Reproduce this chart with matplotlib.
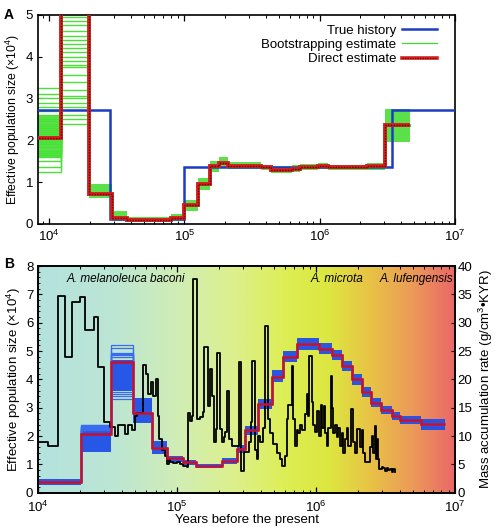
import matplotlib
matplotlib.use("Agg")
import matplotlib.pyplot as plt
import numpy as np
from matplotlib.colors import LinearSegmentedColormap
from matplotlib.lines import Line2D
from matplotlib.ticker import MultipleLocator, LogLocator, NullFormatter

plt.rcParams["font.family"] = ["Liberation Sans", "DejaVu Sans"]
plt.rcParams["mathtext.fontset"] = "custom"
plt.rcParams["mathtext.rm"] = "Liberation Sans"
plt.rcParams["mathtext.it"] = "Liberation Sans:italic"
plt.rcParams["mathtext.bf"] = "Liberation Sans:bold"
plt.rcParams["font.size"] = 9

# ---------------- Panel A: simulated history ----------------
a_true_edges = [8.0e3, 2.8e4, 1.0e5, 3.4e6, 1.0e7]
a_true_vals = [2.72, 0.12, 1.35, 2.72]

a_direct_edges = [8.0e3, 1.23e4, 1.96e4, 2.9e4, 3.8e4, 8.0e4, 1.0e5, 1.26e5,
                  1.55e5, 1.8e5, 2.1e5, 3.7e5, 4.4e5, 6.2e5, 7.2e5, 9.8e5,
                  1.15e6, 2.25e6, 3.04e6, 4.65e6]
a_direct_vals = [2.05, 8.0, 0.72, 0.15, 0.10, 0.15, 0.45, 0.95, 1.38, 1.45,
                 1.39, 1.35, 1.30, 1.32, 1.36, 1.38, 1.35, 1.38, 2.37]
# bootstrap spread (dense core), per step
a_boot_lo = [1.60, 8.0, 0.62, 0.08, 0.06, 0.08, 0.32, 0.80, 1.25, 1.35,
             1.32, 1.28, 1.22, 1.25, 1.29, 1.31, 1.28, 1.30, 1.95]
a_boot_hi = [2.60, 8.0, 0.95, 0.30, 0.16, 0.25, 0.58, 1.10, 1.50, 1.60,
             1.47, 1.42, 1.38, 1.40, 1.43, 1.45, 1.42, 1.46, 2.75]
# individual bootstrap replicates visible in the first two epochs
a_rep_first = [1.25, 1.35, 1.50, 1.60, 1.70, 1.75, 1.85, 1.90, 2.00, 2.05,
               2.10, 2.20, 2.25, 2.30, 2.40, 2.45, 2.50, 2.60, 2.70, 2.80,
               2.90, 3.00, 3.10, 3.25, 1.65, 1.95, 2.15, 2.35]
a_rep_second = [4.95, 4.85, 4.75, 4.60, 4.50, 4.40, 4.30, 4.20, 4.10, 4.00,
                3.90, 3.80, 3.75, 3.55, 3.40, 3.20, 3.05, 3.00, 2.90, 2.80,
                2.60, 2.50, 2.40, 6.00, 5.50, 6.50, 7.00, 7.50]

# ---------------- Panel B: giant panda ----------------
b_direct_edges = [1.0e4, 2.04e4, 3.35e4, 4.85e4, 6.6e4, 8.5e4, 1.1e5, 1.38e5,
                  2.1e5, 2.7e5, 3.1e5, 3.85e5, 4.8e5, 5.8e5, 7.3e5, 1.05e6,
                  1.3e6, 1.55e6, 1.83e6, 2.13e6, 2.5e6, 2.96e6, 3.5e6, 4.0e6,
                  5.7e6, 8.5e6]
b_direct_vals = [0.38, 2.08, 4.62, 2.80, 1.58, 1.22, 1.07, 0.96, 1.13, 1.55,
                 2.20, 3.12, 4.10, 4.80, 5.25, 5.08, 4.85, 4.47, 4.00, 3.54,
                 3.18, 2.92, 2.71, 2.56, 2.42]
b_boot_lo = [0.28, 1.45, 3.60, 2.45, 1.38, 1.10, 0.98, 0.88, 1.03, 1.42,
             2.05, 2.95, 3.90, 4.60, 5.05, 4.90, 4.68, 4.30, 3.82, 3.38,
             3.02, 2.78, 2.58, 2.42, 2.22]
b_boot_hi = [0.48, 2.25, 4.70, 3.35, 1.82, 1.30, 1.15, 1.03, 1.22, 1.68,
             2.35, 3.32, 4.32, 5.00, 5.48, 5.28, 5.05, 4.65, 4.18, 3.72,
             3.36, 3.08, 2.86, 2.72, 2.62]
b_rep_second = [2.25, 2.30, 2.35, 2.40, 2.28, 2.22, 2.32, 2.38, 2.20, 2.26]
b_rep_third = [5.20, 5.10, 4.95, 4.85, 4.78, 3.30, 3.40, 3.50, 3.55, 4.90]

# mass accumulation rate (g/cm^3*KYR), log10 years / rate
mar_logyr = [4.000, 4.070, 4.142, 4.196, 4.245, 4.302, 4.340, 4.405, 4.434, 4.477,
             4.518, 4.554, 4.576, 4.626, 4.647, 4.676, 4.700, 4.712, 4.755, 4.777,
             4.791, 4.813, 4.827, 4.849, 4.863, 4.871, 4.892, 4.910, 4.928, 4.940,
             4.950, 4.973, 4.998, 5.022, 5.045, 5.070, 5.081, 5.094, 5.106, 5.117,
             5.142, 5.165, 5.189, 5.196, 5.221, 5.237, 5.250, 5.266, 5.281, 5.290,
             5.309, 5.321, 5.338, 5.347, 5.358, 5.376, 5.394, 5.446, 5.460, 5.482,
             5.515, 5.535, 5.542, 5.561, 5.573, 5.585, 5.597, 5.621, 5.633, 5.653,
             5.669, 5.693, 5.717, 5.741, 5.758, 5.777, 5.789, 5.801, 5.825, 5.838,
             5.849, 5.861, 5.873, 5.885, 5.901, 5.921, 5.933, 5.945, 5.952, 5.969,
             5.978, 5.993, 6.005, 6.022, 6.036, 6.045, 6.060, 6.065, 6.077, 6.088,
             6.108, 6.117, 6.124, 6.137, 6.149, 6.160, 6.173, 6.185, 6.196, 6.209,
             6.221, 6.232, 6.252, 6.269, 6.281, 6.293, 6.317, 6.329, 6.340, 6.353,
             6.388, 6.401, 6.412, 6.424, 6.432, 6.441, 6.448, 6.455, 6.473, 6.484,
             6.496, 6.509, 6.520, 6.532, 6.545, 6.556, 6.568]
mar_rate = [9.0, 8.3, 34.7, 23.9, 33.6, 34.6, 28.7, 31.1, 22.2, 12.4,
            11.6, 10.0, 12.0, 10.3, 12.0, 11.0, 13.5, 14.0, 22.5, 21.0,
            17.5, 19.5, 17.0, 20.0, 13.5, 9.5, 7.5, 6.5, 5.0, 6.0,
            5.5, 5.2, 5.5, 5.0, 4.8, 4.5, 14.0, 12.7, 13.5, 37.8,
            13.0, 13.3, 14.2, 25.8, 15.3, 21.8, 17.0, 9.0, 11.2, 24.7,
            11.2, 9.0, 9.8, 10.8, 17.9, 9.5, 8.2, 23.0, 3.9, 7.2,
            9.0, 12.5, 23.2, 7.5, 6.0, 10.0, 9.0, 11.5, 29.4, 13.0,
            10.5, 8.6, 7.0, 6.0, 4.8, 6.5, 13.0, 15.5, 22.3, 13.0,
            8.2, 11.0, 10.5, 12.0, 11.0, 13.9, 17.5, 13.5, 24.1, 16.0,
            12.0, 10.7, 14.5, 10.0, 15.5, 11.5, 15.3, 10.5, 8.2, 11.5,
            20.6, 15.0, 10.5, 12.0, 9.8, 11.5, 8.2, 10.5, 7.0, 9.5,
            11.5, 8.2, 14.7, 8.9, 7.1, 11.2, 8.0, 11.0, 7.0, 5.4,
            8.0, 10.0, 7.0, 11.8, 6.0, 9.5, 6.0, 4.2, 4.6, 4.4,
            3.9, 4.4, 4.0, 4.2, 3.6, 4.2, 3.6]

species = ["A. melanoleuca baconi", "A. microta", "A. lufengensis"]
species_x = [4.3e4, 1.42e6, 5.3e6]

GREEN = "#3ddc2a"
RED = "#d41f1f"
TRUE_BLUE = "#1c3cc4"
BOOT_BLUE = "#1f4fe8"

fig = plt.figure(figsize=(4.95, 5.27), dpi=100)
fig.patch.set_facecolor("white")
axa = fig.add_axes([0.077, 0.575, 0.842, 0.397])
axb = fig.add_axes([0.077, 0.065, 0.842, 0.430])


def style_log_x(ax, pad):
    ax.set_xscale("log")
    ax.xaxis.set_major_locator(LogLocator(base=10, numticks=10))
    ax.xaxis.set_minor_locator(LogLocator(base=10, subs=np.arange(2, 10), numticks=20))
    ax.xaxis.set_minor_formatter(NullFormatter())
    ax.tick_params(axis="x", which="both", direction="in", top=True, labelsize=9.5)
    ax.tick_params(axis="x", which="major", length=4, width=0.9, pad=pad)
    ax.tick_params(axis="x", which="minor", length=2.2, width=0.7)
    for s in ax.spines.values():
        s.set_linewidth(1.2)


# ---- panel A ----
axa.stairs(a_boot_hi, a_direct_edges, baseline=a_boot_lo, fill=True,
           color=GREEN, alpha=0.85, lw=0, zorder=2)
for v1, v2 in zip(a_rep_first, a_rep_second):
    rep = list(a_direct_vals)
    rep[0] = v1
    rep[1] = v2
    axa.stairs(rep, a_direct_edges, color="#48e236", lw=1.0, zorder=2,
               baseline=None)
axa.stairs(a_true_vals, a_true_edges, color=TRUE_BLUE, lw=1.8, zorder=3,
           baseline=None)
axa.stairs(a_direct_vals, a_direct_edges, color=RED, lw=2.8, zorder=4,
           baseline=None)
axa.stairs(a_direct_vals, a_direct_edges, color="#5a0a0a", lw=1.0,
           linestyle=(0, (1, 1)), zorder=5, baseline=None)

style_log_x(axa, 3.5)
axa.set_xlim(8.3e3, 1.0e7)
axa.set_ylim(0, 5)
axa.yaxis.set_major_locator(MultipleLocator(1))
axa.tick_params(axis="y", direction="in", length=3, labelsize=9.5)
axa.set_ylabel("Effective population size (×10$^4$)", fontsize=8.8, labelpad=3)

handles = [
    Line2D([], [], color=TRUE_BLUE, lw=1.8),
    Line2D([], [], color=GREEN, lw=0.9),
    (Line2D([], [], color=RED, lw=2.6),
     Line2D([], [], color="#5a0a0a", lw=0.9, linestyle=(0, (1, 1)))),
]
axa.legend(handles, ["True history", "Bootstrapping estimate", "Direct estimate"],
           loc="upper right", frameon=False, markerfirst=False, fontsize=9.5,
           handlelength=2.6, handletextpad=0.45, labelspacing=0.15,
           borderaxespad=0.35, bbox_to_anchor=(0.98, 1.0))

# ---- panel B ----
cmap = LinearSegmentedColormap.from_list("bg", [
    (0.00, "#b4e2de"), (0.18, "#bce6d4"), (0.33, "#d0edb6"), (0.47, "#dcf08c"),
    (0.60, "#dcee52"), (0.70, "#dde640"), (0.80, "#e8c245"), (0.90, "#ec9a58"),
    (1.00, "#ea6868")])
axb.imshow(np.linspace(0, 1, 256).reshape(1, -1), cmap=cmap, aspect="auto",
           extent=(0, 1, 0, 1), transform=axb.transAxes, zorder=0)

ax2 = axb.twinx()
ax2.set_ylim(0, 40)

axb.stairs(b_boot_hi, b_direct_edges, baseline=b_boot_lo, fill=True,
           color=BOOT_BLUE, alpha=0.95, lw=0, zorder=2)
for v2, v3 in zip(b_rep_second, b_rep_third):
    rep = list(b_direct_vals)
    rep[1] = v2
    rep[2] = v3
    axb.stairs(rep, b_direct_edges, color="#3a6cf2", lw=0.9, zorder=2,
               baseline=None)
axb.plot(10 ** np.array(mar_logyr), mar_rate, color="black", lw=1.3,
         drawstyle="steps-post", transform=ax2.transData, zorder=3)
axb.stairs(b_direct_vals, b_direct_edges, color="#c8102e", lw=1.8, zorder=4,
           baseline=None)

style_log_x(axb, 5)
axb.set_xlim(1.0e4, 1.0e7)
axb.set_ylim(0, 8)
axb.yaxis.set_major_locator(MultipleLocator(1))
axb.yaxis.set_minor_locator(MultipleLocator(0.2))
axb.tick_params(axis="y", which="major", direction="in", length=3, labelsize=9.5)
axb.tick_params(axis="y", which="minor", direction="in", length=1.5)
axb.set_ylabel("Effective population size (×10$^4$)", fontsize=9.5, labelpad=2)
axb.set_xlabel("Years before the present", fontsize=9.5, labelpad=-1)

ax2.yaxis.set_major_locator(MultipleLocator(5))
ax2.tick_params(axis="y", direction="in", length=3, labelsize=9.5, pad=2)
ax2.set_ylabel("Mass accumulation rate (g/cm$^3$•KYR)", fontsize=9.5, labelpad=3)
for s in ax2.spines.values():
    s.set_linewidth(1.2)

for name, xpos in zip(species, species_x):
    axb.text(xpos, 7.55, name, style="italic", fontsize=8.5, ha="center",
             va="center", zorder=6)

fig.text(0.008, 0.985, "A", fontsize=10, fontweight="bold", va="top")
fig.text(0.008, 0.512, "B", fontsize=10, fontweight="bold", va="top")

fig.savefig("out.png", dpi=100, facecolor="white")
